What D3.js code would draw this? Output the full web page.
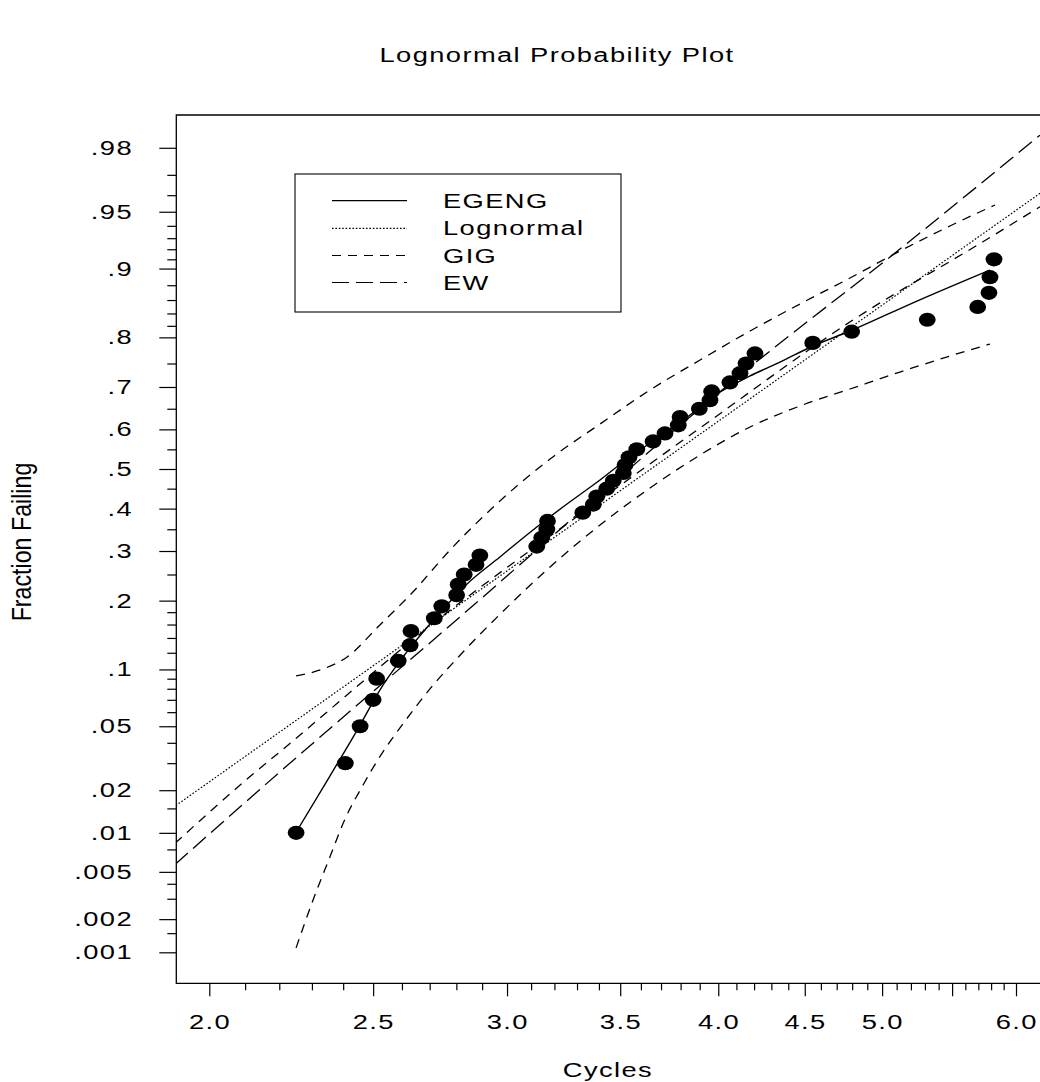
<!DOCTYPE html>
<html>
<head>
<meta charset="utf-8">
<script src="https://cdn.jsdelivr.net/npm/d3@7"></script>
<style>
  html, body { margin: 0; padding: 0; background: #fff; }
  svg { display: block; }
  text { font-family: "Liberation Sans", Arial, Helvetica, sans-serif; fill: #000; }
</style>
</head>
<body>
<svg id="chart" width="1040" height="1082"></svg>
<script>
// ---- data -------------------------------------------------------------
// observed failure times (cycles) and their plotting positions
const failureCycles = [
  2.251, 2.407, 2.456, 2.500, 2.512, 2.587, 2.629, 2.632, 2.717, 2.745,
  2.801, 2.807, 2.830, 2.876, 2.891, 3.124, 3.145, 3.167, 3.170, 3.326,
  3.374, 3.390, 3.436, 3.467, 3.515, 3.523, 3.542, 3.580, 3.660, 3.720,
  3.788, 3.797, 3.898, 3.955, 3.964, 4.064, 4.120, 4.154, 4.205, 4.549,
  4.797, 5.317, 5.695, 5.783, 5.791, 5.823
];
const fractionFailing = [
  .01, .03, .05, .07, .09, .11, .13, .15, .17, .19,
  .21, .23, .25, .27, .29, .31, .33, .35, .37, .39,
  .41, .43, .45, .47, .49, .51, .53, .55, .57, .59,
  .61, .63, .65, .67, .69, .71, .73, .75, .77, .79,
  .81, .83, .85, .87, .89, .91
];

// fitted cdf curves: [cycles, fraction failing]
const egengCurve = [
  [2.251, .0101], [2.357, .0248], [2.456, .0508], [2.523, .0788], [2.593, .1098],
  [2.727, .1736], [2.841, .2311], [2.971, .2868], [3.108, .3483], [3.255, .4114],
  [3.405, .4720], [3.533, .5255], [3.660, .5710], [3.849, .6351], [3.993, .6842],
  [4.177, .7240], [4.351, .7530], [4.551, .7842], [4.786, .8112], [5.243, .8586],
  [5.791, .8984]
];
const lognormalCurve = [[1.911, .0157], [6.199, .961]];
const gigCurve = [
  [1.909, .00836], [2.114, .0246], [2.202, .0353], [2.701, .1577], [3.405, .4215],
  [3.902, .6034], [4.805, .8296], [5.736, .9269], [6.199, .9532]
];
const gigUpper = [
  [2.251, .0929], [2.326, .0994], [2.413, .1147], [2.523, .1593], [2.639, .2158],
  [2.776, .3023], [2.971, .4189], [3.181, .5255], [3.405, .6132], [3.645, .6933],
  [3.902, .7571], [4.177, .8112], [4.471, .8543], [4.786, .8890], [5.123, .9183],
  [5.484, .9399], [5.831, .9543]
];
const gigLower = [
  [2.251, .0011], [2.303, .00290], [2.357, .00656], [2.408, .01290], [2.466, .02167],
  [2.523, .0330], [2.593, .0489], [2.701, .0798], [2.833, .1236], [2.971, .1763],
  [3.181, .2655], [3.405, .3601], [3.645, .4517], [3.902, .5357], [4.177, .6059],
  [4.471, .6565], [4.786, .6955], [5.123, .7324], [5.484, .7650], [5.791, .7879]
];
const ewCurve = [
  [1.909, .00574], [2.202, .0264], [2.776, .1585], [4.177, .7428], [5.054, .9124],
  [6.199, .9836]
];

// axis ticks
const yMajorTicks = [.98, .95, .9, .8, .7, .6, .5, .4, .3, .2, .1, .05, .02, .01, .005, .002, .001];
const yMajorLabels = [".98", ".95", ".9", ".8", ".7", ".6", ".5", ".4", ".3", ".2", ".1", ".05", ".02", ".01", ".005", ".002", ".001"];
const yMinorTicks = [.97, .96, .94, .93, .92, .91, .88, .86, .84, .82, .75, .65, .55, .45, .35, .25,
  .18, .16, .14, .12, .09, .08, .07, .06, .04, .03, .015, .0075, .004, .003, .0015];
const xMajorTicks = [2.0, 2.5, 3.0, 3.5, 4.0, 4.5, 5.0, 5.5, 6.0];
const xMajorLabels = ["2.0", "2.5", "3.0", "3.5", "4.0", "4.5", "5.0", "", "6.0"];
const xMinorTicks = [2.1, 2.2, 2.3, 2.4, 2.6, 2.7, 2.8, 2.9, 3.1, 3.2, 3.3, 3.4, 3.6, 3.7, 3.8, 3.9,
  4.1, 4.2, 4.3, 4.4, 4.6, 4.7, 4.8, 4.9, 5.1, 5.2, 5.3, 5.4, 5.6, 5.7, 5.8, 5.9];

const legendItems = [
  { name: "EGENG", dash: null },
  { name: "Lognormal", dash: "1.6,1.8" },
  { name: "GIG", dash: "9,7" },
  { name: "EW", dash: "17,7" }
];

// ---- scales -------------------------------------------------------------
const frame = { left: 176.3, right: 1040, top: 115, bottom: 983.3 };

// inverse standard normal cdf (Acklam's rational approximation)
function probit(p) {
  const a = [-3.969683028665376e+01, 2.209460984245205e+02, -2.759285104469687e+02,
             1.383577518672690e+02, -3.066479806614716e+01, 2.506628277459239e+00];
  const b = [-5.447609879822406e+01, 1.615858368580409e+02, -1.556989798598866e+02,
             6.680131188771972e+01, -1.328068155288572e+01];
  const c = [-7.784894002430293e-03, -3.223964580411365e-01, -2.400758277161838e+00,
             -2.549732539343734e+00, 4.374664141464968e+00, 2.938163982698783e+00];
  const d = [7.784695709041462e-03, 3.224671290700398e-01, 2.445134137142996e+00,
             3.754408661907416e+00];
  const plow = 0.02425, phigh = 1 - plow;
  let q, r;
  if (p < plow) {
    q = Math.sqrt(-2 * Math.log(p));
    return (((((c[0]*q + c[1])*q + c[2])*q + c[3])*q + c[4])*q + c[5]) /
           ((((d[0]*q + d[1])*q + d[2])*q + d[3])*q + 1);
  }
  if (p <= phigh) {
    q = p - 0.5; r = q * q;
    return (((((a[0]*r + a[1])*r + a[2])*r + a[3])*r + a[4])*r + a[5]) * q /
           (((((b[0]*r + b[1])*r + b[2])*r + b[3])*r + b[4])*r + 1);
  }
  q = Math.sqrt(-2 * Math.log(1 - p));
  return -(((((c[0]*q + c[1])*q + c[2])*q + c[3])*q + c[4])*q + c[5]) /
          ((((d[0]*q + d[1])*q + d[2])*q + d[3])*q + 1);
}

const x = d3.scaleLog().domain([2, 6]).range([209.3, 1016]);
const zScale = d3.scaleLinear().domain([0, 1]).range([469, 312.6]); // probit units
const y = p => zScale(probit(p));

// ---- drawing ------------------------------------------------------------
const svg = d3.select("#chart");
const SX = 1.4, SPACING = 1.0, FS = 19.5;

// wide lettering used throughout the chart
function wideText(parent, str, tx, ty, anchor) {
  return parent.append("text")
    .attr("transform", `translate(${tx},${ty}) scale(${SX},1)`)
    .attr("text-anchor", anchor)
    .attr("font-size", FS)
    .attr("letter-spacing", SPACING)
    .text(str);
}

// title and axis titles
wideText(svg, "Lognormal Probability Plot", 557, 62, "middle");
wideText(svg, "Cycles", 608, 1077, "middle");
svg.append("text")
  .attr("transform", "translate(31,542) rotate(-90) scale(0.86,1)")
  .attr("text-anchor", "middle")
  .attr("font-size", 27)
  .text("Fraction Failing");

// clip region for curves
svg.append("clipPath").attr("id", "plotClip")
  .append("rect")
  .attr("x", frame.left).attr("y", frame.top)
  .attr("width", frame.right - frame.left).attr("height", frame.bottom - frame.top);

// y axis ticks
const yAxisG = svg.append("g").attr("transform", `translate(${frame.left},0)`);
yAxisG.append("g")
  .call(d3.axisLeft(zScale).tickValues(yMinorTicks.map(probit)).tickSize(9).tickFormat(""))
  .call(g => g.select(".domain").remove());
yAxisG.append("g")
  .call(d3.axisLeft(zScale).tickValues(yMajorTicks.map(probit)).tickSize(17).tickFormat(""))
  .call(g => g.select(".domain").remove());
yAxisG.selectAll("line").attr("stroke", "#000").attr("stroke-width", 1.2);

yMajorTicks.forEach((p, i) => {
  wideText(svg, yMajorLabels[i], 133, y(p) + 7, "end");
});

// x axis ticks
const xAxisG = svg.append("g").attr("transform", `translate(0,${frame.bottom})`);
xAxisG.append("g")
  .call(d3.axisBottom(x).tickValues(xMinorTicks).tickSize(7).tickFormat(""))
  .call(g => g.select(".domain").remove());
xAxisG.append("g")
  .call(d3.axisBottom(x).tickValues(xMajorTicks).tickSize(13).tickFormat(""))
  .call(g => g.select(".domain").remove());
xAxisG.selectAll("line").attr("stroke", "#000").attr("stroke-width", 1.2);

xMajorTicks.forEach((v, i) => {
  if (xMajorLabels[i]) wideText(svg, xMajorLabels[i], x(v) + 0.7, 1029, "middle");
});

// frame (open on the right)
svg.append("path")
  .attr("d", `M${frame.right},${frame.top}H${frame.left}V${frame.bottom}H${frame.right}`)
  .attr("fill", "none").attr("stroke", "#000").attr("stroke-width", 1.3);

// curves
const plotG = svg.append("g").attr("clip-path", "url(#plotClip)");
const smooth = d3.line().x(d => x(d[0])).y(d => y(d[1])).curve(d3.curveMonotoneX);
const straight = d3.line().x(d => x(d[0])).y(d => y(d[1]));

function drawCurve(data, gen, dash, width) {
  plotG.append("path")
    .attr("d", gen(data))
    .attr("fill", "none")
    .attr("stroke", "#000")
    .attr("stroke-width", width)
    .attr("stroke-dasharray", dash);
}
drawCurve(gigUpper, smooth, "9,7", 1.3);
drawCurve(gigLower, smooth, "9,7", 1.3);
drawCurve(gigCurve, smooth, "9,7", 1.3);
drawCurve(lognormalCurve, straight, "1.6,1.8", 1.2);
drawCurve(ewCurve, smooth, "17,7", 1.3);
drawCurve(egengCurve, smooth, null, 1.4);

// observed points
plotG.selectAll("ellipse.pt")
  .data(failureCycles.map((c, i) => [c, fractionFailing[i]]))
  .join("ellipse")
  .attr("class", "pt")
  .attr("cx", d => x(d[0]))
  .attr("cy", d => y(d[1]))
  .attr("rx", 8.4).attr("ry", 7.1)
  .attr("fill", "#000");

// legend
const lg = svg.append("g");
lg.append("rect")
  .attr("x", 295).attr("y", 174).attr("width", 326).attr("height", 138)
  .attr("fill", "#fff").attr("stroke", "#000").attr("stroke-width", 1.1);
const legendRowY = [200.7, 228.3, 255.5, 282.5];
legendItems.forEach((item, i) => {
  lg.append("line")
    .attr("x1", 332).attr("x2", 407)
    .attr("y1", legendRowY[i]).attr("y2", legendRowY[i])
    .attr("stroke", "#000").attr("stroke-width", 1.2)
    .attr("stroke-dasharray", item.dash);
  wideText(lg, item.name, 443, legendRowY[i] + 7);
});
</script>
</body>
</html>
